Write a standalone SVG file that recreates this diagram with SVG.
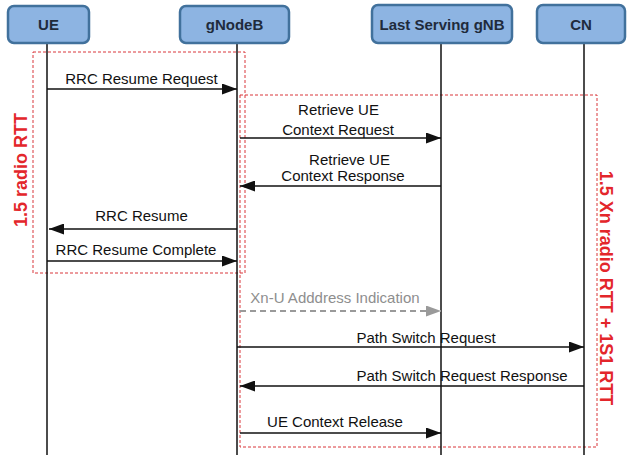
<svg xmlns="http://www.w3.org/2000/svg" width="631" height="459" viewBox="0 0 631 459">
  <style>
    .node rect { fill: #8DB4E2; stroke: #41719C; stroke-width: 2.5; }
    .node text { font-family: "Liberation Sans", Arial, sans-serif; font-weight: bold; font-size: 15px; fill: #1F2B3C; text-anchor: middle; }
    .life { stroke: #111; stroke-width: 1.5; }
    .msg { stroke: #111; stroke-width: 1.6; fill: none; marker-end: url(#head); }
    .msg-gray { stroke: #9A9A9A; stroke-width: 1.8; fill: none; stroke-dasharray: 6 4; marker-end: url(#head-gray); }
    .lbl { font-family: "Liberation Sans", Arial, sans-serif; font-size: 15px; fill: #111; text-anchor: middle; }
    .lbl-gray { fill: #8E8E8E; }
    .zone { fill: none; stroke: #D9363A; stroke-width: 1; stroke-dasharray: 3 2; }
    .zone-lbl { font-family: "Liberation Sans", Arial, sans-serif; font-weight: bold; font-size: 18px; fill: #E3262B; text-anchor: middle; }
  </style>
  <defs>
    <marker id="head" markerUnits="userSpaceOnUse" markerWidth="15" markerHeight="11" refX="15" refY="5.5" orient="auto">
      <path d="M0,0 L15,5.5 L0,11 z" fill="#111"/>
    </marker>
    <marker id="head-gray" markerUnits="userSpaceOnUse" markerWidth="15" markerHeight="11" refX="15" refY="5.5" orient="auto">
      <path d="M0,0 L15,5.5 L0,11 z" fill="#9A9A9A"/>
    </marker>
  </defs>

  <rect width="631" height="459" fill="#FFFFFF"/>

  <!-- timing zones -->
  <g id="zones">
    <rect class="zone" x="33" y="52" width="212" height="221"/>
    <rect class="zone" x="240" y="95" width="357" height="352"/>
    <text class="zone-lbl" transform="translate(27,170) rotate(-90)">1.5  radio RTT</text>
    <text class="zone-lbl" transform="translate(600,288) rotate(90)">1.5 Xn radio RTT + 1S1 RTT</text>
  </g>

  <!-- lifelines -->
  <g id="lifelines">
    <line class="life" x1="47" y1="44" x2="47" y2="455"/>
    <line class="life" x1="237" y1="44" x2="237" y2="455"/>
    <line class="life" x1="441" y1="44" x2="441" y2="455"/>
    <line class="life" x1="584" y1="44" x2="584" y2="455"/>
  </g>

  <!-- participants -->
  <g id="ue" class="node">
    <rect x="8" y="6" width="81" height="37" rx="6"/>
    <text x="48.5" y="30">UE</text>
  </g>
  <g id="gnodeb" class="node">
    <rect x="180" y="6" width="109" height="37" rx="6"/>
    <text x="234.5" y="30">gNodeB</text>
  </g>
  <g id="last-serving-gnb" class="node">
    <rect x="372" y="5" width="140" height="38" rx="6"/>
    <text x="442" y="30">Last Serving gNB</text>
  </g>
  <g id="cn" class="node">
    <rect x="537" y="5" width="88" height="38" rx="6"/>
    <text x="581" y="30">CN</text>
  </g>

  <!-- messages -->
  <g id="connectors">
    <line class="msg" x1="47" y1="89" x2="237" y2="89"/>
    <text class="lbl" x="141.5" y="84">RRC Resume Request</text>

    <line class="msg" x1="240" y1="138" x2="441" y2="138"/>
    <text class="lbl" x="338.5" y="115">Retrieve UE</text>
    <text class="lbl" x="338" y="135">Context Request</text>

    <line class="msg" x1="441" y1="186" x2="240" y2="186"/>
    <text class="lbl" x="349.5" y="165">Retrieve UE</text>
    <text class="lbl" x="343" y="181">Context Response</text>

    <line class="msg" x1="237" y1="229" x2="49" y2="229"/>
    <text class="lbl" x="141.5" y="221">RRC Resume</text>

    <line class="msg" x1="47" y1="261" x2="237" y2="261"/>
    <text class="lbl" x="136" y="255">RRC Resume Complete</text>

    <line class="msg-gray" x1="240" y1="311" x2="441" y2="311"/>
    <text class="lbl lbl-gray" x="335" y="303">Xn-U Adddress Indication</text>

    <line class="msg" x1="237" y1="347" x2="584" y2="347"/>
    <text class="lbl" x="426" y="343">Path Switch Request</text>

    <line class="msg" x1="584" y1="386" x2="240" y2="386"/>
    <text class="lbl" x="462" y="381">Path Switch Request Response</text>

    <line class="msg" x1="240" y1="433" x2="441" y2="433"/>
    <text class="lbl" x="335" y="427">UE Context Release</text>
  </g>
</svg>
